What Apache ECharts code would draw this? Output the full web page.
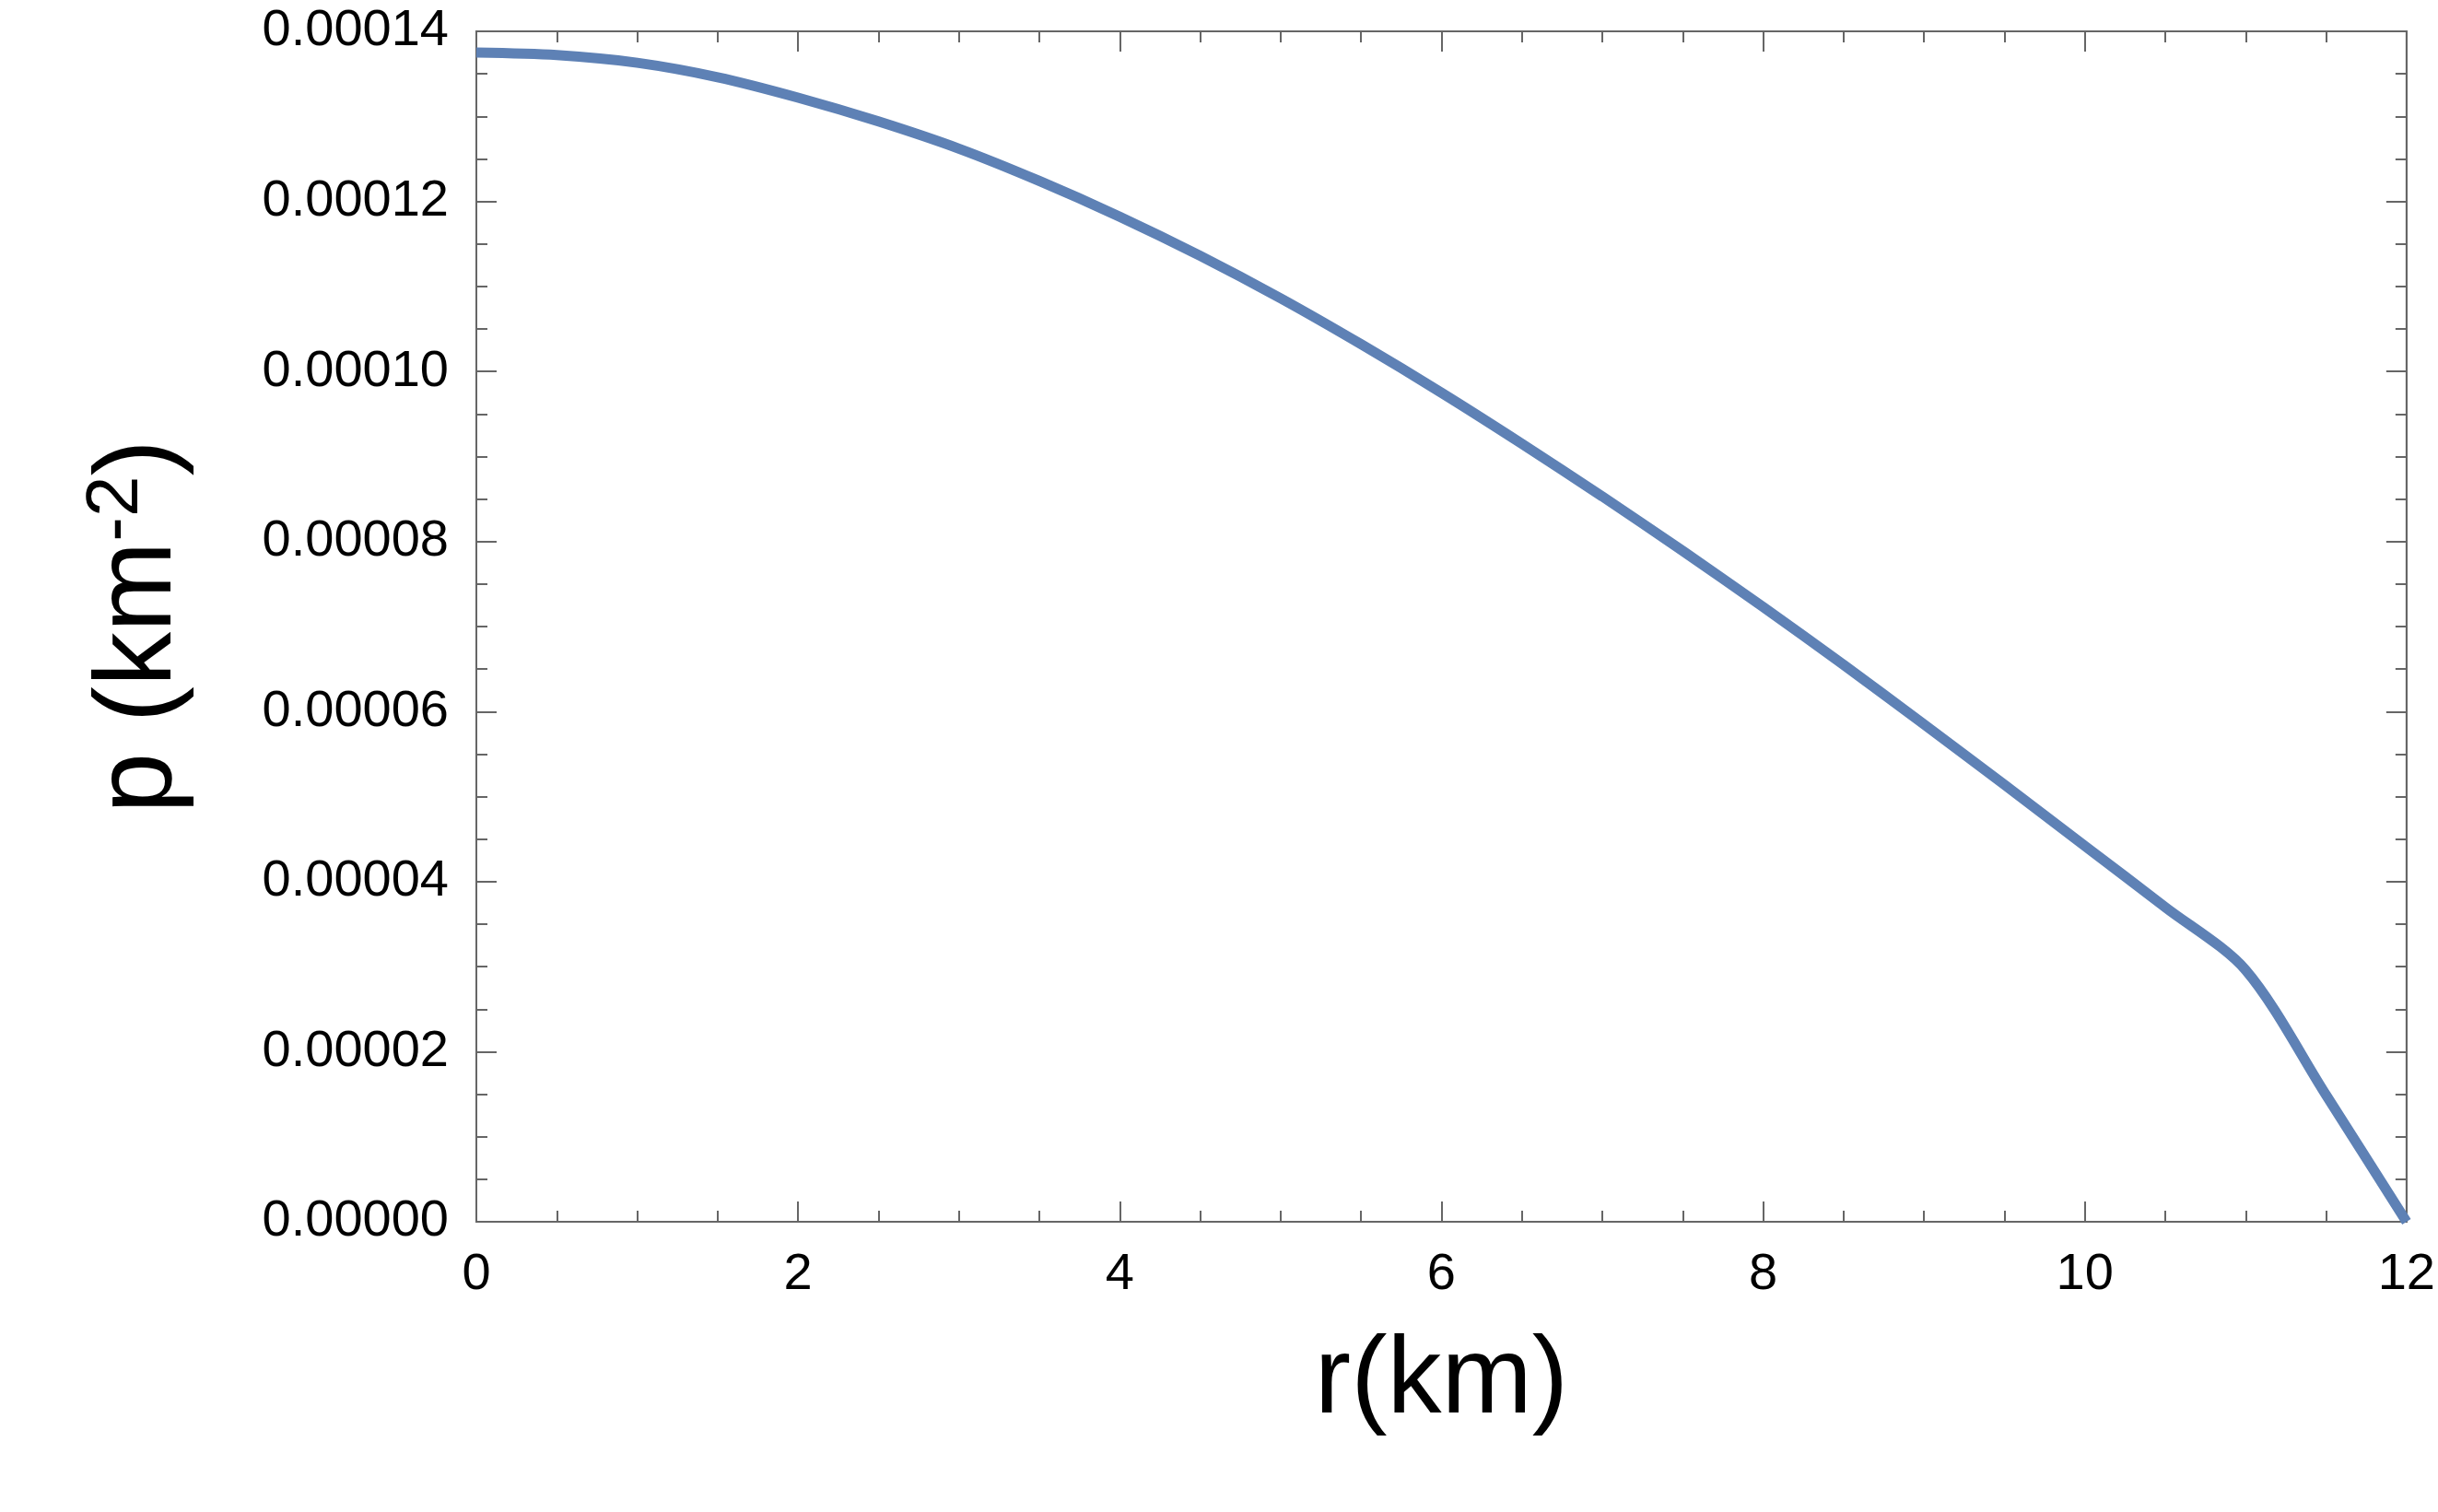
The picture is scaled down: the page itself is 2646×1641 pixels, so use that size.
<!DOCTYPE html>
<html><head><meta charset="utf-8">
<script src="https://cdn.jsdelivr.net/npm/echarts@6/dist/echarts.min.js"></script>
<style>html,body{margin:0;padding:0;background:#fff}#c{width:2646px;height:1641px}</style>
</head><body><div id="c"></div>
<script>
const rValues = [0, 0.5, 1, 1.5, 2, 2.5, 3, 3.5, 4, 4.5, 5, 5.5, 6, 6.5, 7, 7.5, 8, 8.5, 9, 9.5, 10, 10.5, 11, 11.5, 12];
const pValues = [0.0001375, 0.0001372, 0.0001363, 0.0001346, 0.0001322, 0.0001294, 0.0001262, 0.0001224, 0.0001182, 0.0001136, 0.0001086, 0.0001032, 0.0000975, 0.0000915, 0.0000853, 0.0000789, 0.0000723, 0.0000655, 0.0000585, 0.0000514, 0.0000442, 0.0000370, 0.0000296, 0.0000149, 0.0];
const F = 'Liberation Sans, Arial, sans-serif';
const chart = echarts.init(document.getElementById('c'));
const axLine = () => ({show: true, onZero: false, lineStyle: {color: '#666', width: 2}});
const tick = () => ({show: true, inside: true, length: 22, lineStyle: {color: '#666', width: 2}});
const minor = () => ({show: true, splitNumber: 4, length: 12, lineStyle: {color: '#666', width: 2}});
chart.setOption({
  animation: false,
  grid: {left: 517, right: 34, top: 34, bottom: 315, show: true, borderColor: '#666', borderWidth: 2},
  xAxis: [{
    type: 'value', min: 0, max: 12, interval: 2, position: 'bottom',
    name: 'r(km)', nameLocation: 'middle', nameGap: 115,
    nameTextStyle: {fontFamily: F, fontSize: 118, color: '#000'},
    axisLine: axLine(), axisTick: tick(), minorTick: minor(), splitLine: {show: false},
    axisLabel: {fontFamily: F, fontSize: 56, color: '#000', margin: 30}
  }, {
    type: 'value', min: 0, max: 12, interval: 2, position: 'top', show: true,
    axisLine: axLine(), axisTick: tick(), minorTick: minor(), splitLine: {show: false}, axisLabel: {show: false}
  }],
  yAxis: [{
    type: 'value', min: 0, max: 0.00014, interval: 0.00002, position: 'left',
    name: '{a|p (km}{s|-2}{a|)}', nameLocation: 'middle', nameGap: 300, nameRotate: 90,
    nameTextStyle: {rich: {a: {fontFamily: F, fontSize: 118, color: '#000'}, s: {fontFamily: F, fontSize: 80, color: '#000', verticalAlign: 'top', padding: [0,0,50,0]}}},
    axisLine: axLine(), axisTick: tick(), minorTick: minor(), splitLine: {show: false},
    axisLabel: {fontFamily: F, fontSize: 56, color: '#000', margin: 30, formatter: v => v.toFixed(5)}
  }, {
    type: 'value', min: 0, max: 0.00014, interval: 0.00002, position: 'right', show: true,
    axisLine: axLine(), axisTick: tick(), minorTick: minor(), splitLine: {show: false}, axisLabel: {show: false}
  }],
  series: [{
    type: 'line', smooth: 0.3, showSymbol: false,
    data: rValues.map((r, i) => [r, pValues[i]]),
    lineStyle: {color: '#5e81b5', width: 11}
  }]
});
</script></body></html>
